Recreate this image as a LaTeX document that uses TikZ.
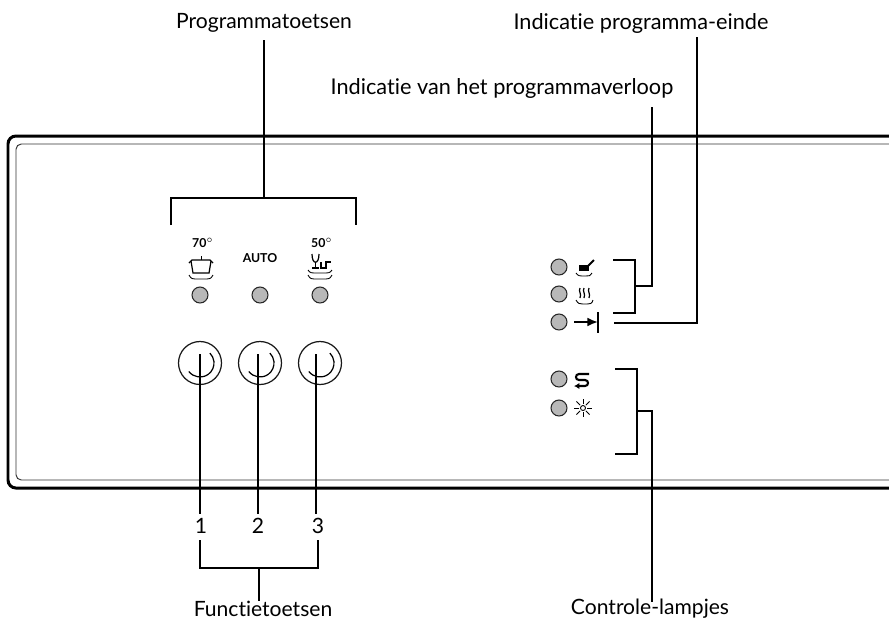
\documentclass[tikz,border=0pt]{standalone}
\usepackage{fontspec}
\setmainfont[Ligatures=NoCommon]{Lato}
\usetikzlibrary{arrows.meta}
\tikzset{
  leader/.style={line width=1.1pt, black},
  thinleader/.style={line width=0.8pt, black},
  ledlamp/.style={circle, draw=black!85, line width=0.6pt, fill=black!28, minimum size=3.2mm, inner sep=0pt},
  knob/.style={circle, draw=black!90, line width=0.7pt, minimum size=8.6mm, inner sep=0pt},
  lbl/.style={font=\fontsize{12}{14}\selectfont, inner sep=0pt},
  widelbl/.style={font=\fontsize{12.35}{14}\selectfont, inner sep=0pt},
  tinylbl/.style={font=\fontsize{7}{8}\selectfont\bfseries, inner sep=0pt},
  symb/.style={line width=0.5pt, black}
}
\begin{document}
\begin{tikzpicture}[x=0.02cm,y=-0.02cm]
    \useasboundingbox (0,0) rectangle (889,623);
    %Paneel
    \draw[line width=1.7pt, rounded corners=4.5pt] (889,136)--(8,136)--(8,488)--(889,488);
    \draw[line width=0.55pt, black!80, rounded corners=3pt] (889,144)--(16,144)--(16,480)--(889,480);
    %Lampjes
    \foreach \name/\x/\y in {
    ledA/200/295, ledB/260/295, ledC/320/295, ledD/559/267, ledE/559/294, ledF/559/322, ledG/559/379, ledH/559/408
    }{\node[ledlamp] (\name) at (\x,\y) {};}
    %Toetsen
    \foreach \name/\x in {knobA/200, knobB/260, knobC/320}{
        \node[knob] (\name) at (\x,363) {};
        \draw[line width=0.7pt] ([shift={(-217:14)}]\name.center) arc[start angle=-217, end angle=-405, radius=14];
    }
    %Teksten
    \node[lbl] (lblProg) at (264,23) {Programmatoetsen};
    \node[widelbl] (lblEinde) at (641,23) {Indicatie programma-einde};
    \node[widelbl] (lblVerloop) at (502,88) {Indicatie van het programmaverloop};
    \node[lbl] (lblFunctie) at (263,609) {Functietoetsen};
    \node[lbl] (lblControle) at (650,609) {Controle-lampjes};
    \node[lbl] (num1) at (201,526) {1};
    \node[lbl] (num2) at (258,526) {2};
    \node[lbl] (num3) at (318,526) {3};
    \node[tinylbl] (t70) at (203,243) {70$^{\circ}$};
    \node[tinylbl] (tAuto) at (260,258) {AUTO};
    \node[tinylbl] (t50) at (322,243) {50$^{\circ}$};
    %Punten voor de lijnen
    \foreach \name/\x/\y in {
    progL/171/225, progM/264/198, progR/356/225, progEnd/264/40,
    verloopA/613/260, verloopB/613/313, verloopM/635/286, verloopEnd/652/107,
    eindeA/614/323, eindeEnd/697/37,
    ctrlA/615/369, ctrlB/615/454, ctrlM/637/411, ctrlEnd/652/602,
    pinA/200/354, pinB/258/354, pinC/316/354, pinEndA/200/514, pinEndB/258/514, pinEndC/316/514,
    funcL/200/540, funcM/259/568, funcR/318/540, funcEnd/259/601
    }{\coordinate (\name) at (\x,\y);}
    %Bovenste haak
    \draw[leader] (progL) |- (progM) -| (progR);
    \draw[leader] (progEnd)--(progM);
    %Haken rechts
    \draw[leader] (verloopA) -| (verloopM) |- (verloopB);
    \draw[leader] (verloopM) -| (verloopEnd);
    \draw[leader] (eindeA) -| (eindeEnd);
    \draw[leader] (ctrlA) -| (ctrlM) |- (ctrlB);
    \draw[leader] (ctrlM) -| (ctrlEnd);
    %Toets naar cijfer
    \draw[leader] (pinA)--(pinEndA);
    \draw[thinleader] (pinB)--(pinEndB);
    \draw[thinleader] (pinC)--(pinEndC);
    %Onderste haak
    \draw[leader] (funcL) |- (funcM) -| (funcR);
    \draw[leader] (funcM)--(funcEnd);
    %Symbool pan
    \begin{scope}[symb]
    \draw[line width=0.7pt] (189,263)--(192,260)--(210,260)--(213,263);
    \draw[line width=0.7pt] (191,261)--(193,273)--(209,273)--(211,261);
    \draw (201,260)--(201,256);
    \draw (189,275) .. controls (191,279) and (193,279) .. (195,279)--(207,279) .. controls (209,279) and (211,279) .. (213,275);
    %Symbool glas
    \draw[line width=0.7pt] (312,254) .. controls (312,265) and (319,265) .. (319,254);
    \draw[line width=0.7pt] (315.5,262)--(315.5,268) (312,268)--(319,268);
    \draw[line width=0.7pt] (321,262)--(321,268)--(326,268)--(326,262)--(331,262);
    \draw (308,270) .. controls (310,273) and (312,273) .. (314,273)--(326,273) .. controls (328,273) and (330,273) .. (332,270);
    \draw (308,275) .. controls (310,279) and (312,279) .. (314,279)--(326,279) .. controls (328,279) and (330,279) .. (332,275);
    %Symbool spoelen
    \fill (579,265)--(589,265)--(589,271)--(579,271)--cycle;
    \draw[line width=1.1pt] (587,267)--(594,260);
    \draw (576,273) .. controls (578,276) and (580,276) .. (582,276)--(586,276) .. controls (589,276) and (591,276) .. (592,273);
    %Symbool drogen
    \foreach \x in {580,584,589}{
        \draw[line width=0.7pt] (\x,288) .. controls (\x-2,291) and (\x+2,294) .. (\x,298);
    }
    \draw (576,300) .. controls (578,304) and (580,304) .. (583,304)--(587,304) .. controls (590,304) and (592,304) .. (593,300);
    %Symbool einde
    \draw[line width=1.1pt, -{Latex[length=6pt,width=5pt]}] (574,322)--(598,322);
    \draw[line width=0.7pt] (598,312)--(598,333);
    %Symbool zout
    \draw[line width=1.2pt, -{Latex[length=3pt,width=3.5pt]}] (589,374)--(579,374) .. controls (575,374) and (575,380) .. (579,380)--(585,380) .. controls (589,380) and (589,386) .. (585,386)--(574,386);
    %Symbool zon
    \draw (583,408) circle (2.5);
    \foreach \a in {0,45,...,315}{
        \draw[densely dashed, line width=0.5pt] (\a:4)++(583,408)--++(\a:6);
    }
    \end{scope}
\end{tikzpicture}
\end{document}
